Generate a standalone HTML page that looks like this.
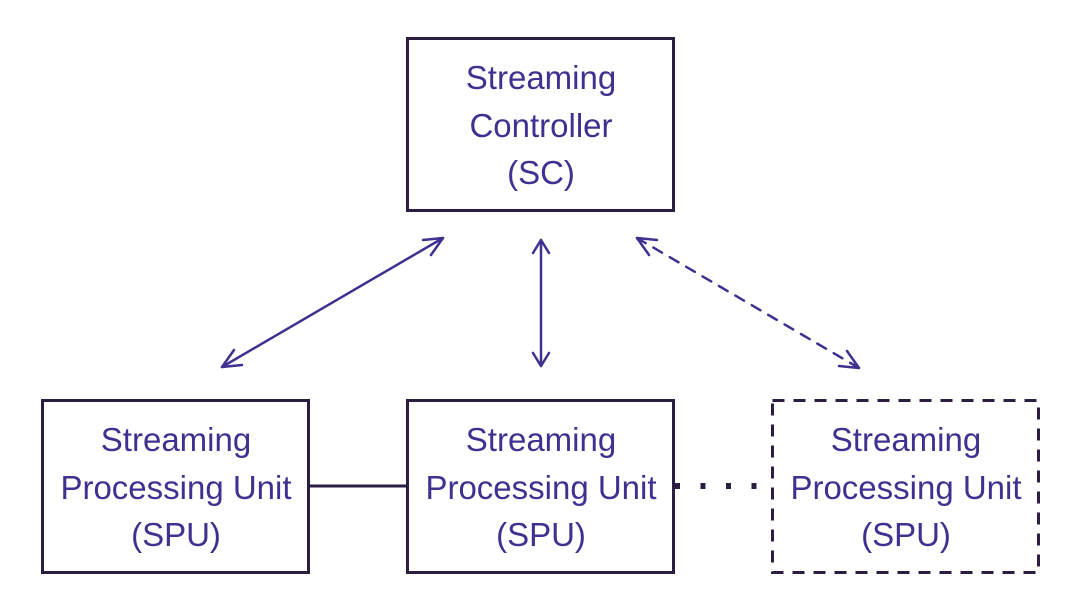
<!DOCTYPE html>
<html><head><style>
html,body{margin:0;padding:0;background:#fff;}
svg{display:block;}
text{font-family:"Liberation Sans",sans-serif;font-size:33px;fill:#3f3190;text-anchor:middle;}
</style></head><body>
<svg width="1076" height="602" viewBox="0 0 1076 602" xmlns="http://www.w3.org/2000/svg">
<g fill="none" stroke="#2a1f40" stroke-width="3">
<rect x="407.5" y="38.5" width="266" height="172"/>
<rect x="42.5" y="400.5" width="266" height="172"/>
<rect x="407.5" y="400.5" width="266" height="172"/>
<rect x="772.5" y="400.5" width="266" height="172" stroke-dasharray="12,9"/>
<line x1="309" y1="486" x2="407" y2="486"/>
<line x1="675" y1="486" x2="760" y2="486" stroke-width="6" stroke-dasharray="5,20.5"/>
</g>
<g fill="none" stroke="#3f3190" stroke-width="2.5" stroke-linecap="round" stroke-linejoin="round">
<line x1="222" y1="367" x2="443" y2="238"/>
<polyline points="234,350 222,367 242,365"/>
<polyline points="423,240 443,238 431,255"/>
<line x1="541" y1="240" x2="541" y2="366"/>
<polyline points="533,253 541,240 549,253"/>
<polyline points="533,353 541,366 549,353"/>
<line x1="637" y1="238" x2="859" y2="368" stroke-dasharray="10,9"/>
<polyline points="657,240 637,238 649,255"/>
<polyline points="839,366 859,368 847,351"/>
</g>
<text x="541" y="89">Streaming</text>
<text x="541" y="137">Controller</text>
<text x="541" y="184">(SC)</text>
<text x="176" y="451">Streaming</text>
<text x="176" y="499">Processing Unit</text>
<text x="176" y="546">(SPU)</text>
<text x="541" y="451">Streaming</text>
<text x="541" y="499">Processing Unit</text>
<text x="541" y="546">(SPU)</text>
<text x="906" y="451">Streaming</text>
<text x="906" y="499">Processing Unit</text>
<text x="906" y="546">(SPU)</text>
</svg>
</body></html>
